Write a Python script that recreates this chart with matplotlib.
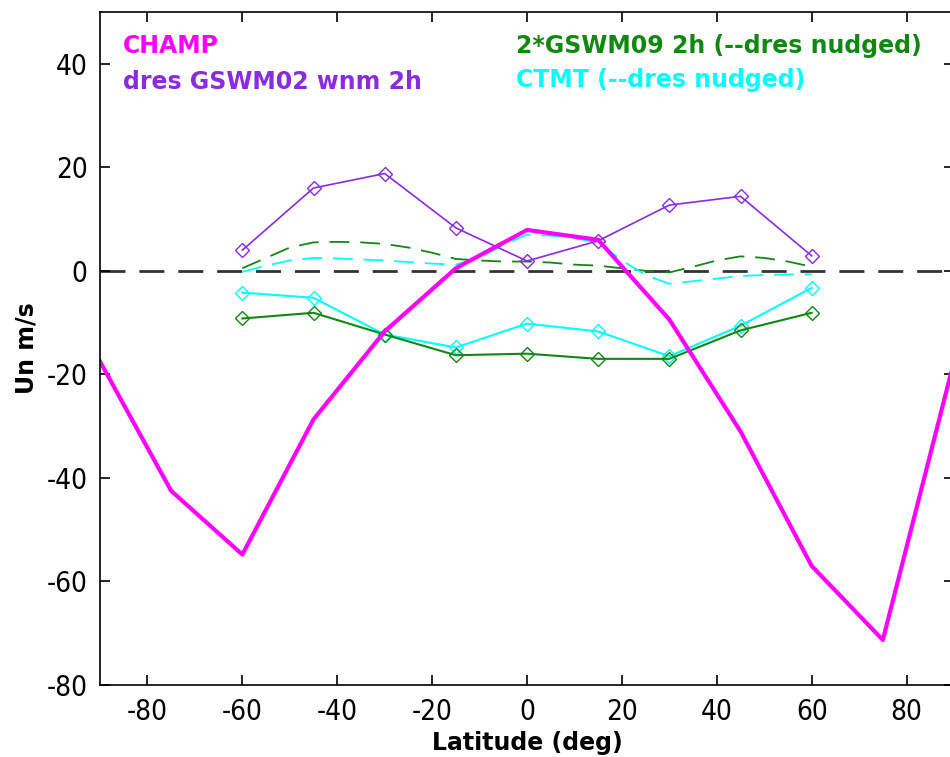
import matplotlib.pyplot as plt
import numpy as np

plt.rcParams['axes.unicode_minus'] = False

# latitudes for the CHAMP curve and the model points
lat_champ = [-90, -75, -60, -45, -30, -15, 0, 15, 30, 45, 60, 75, 90]
un_champ = [-17.5, -42.5, -54.8, -28.7, -11.7, 0.5, 7.9, 6.0, -9.4, -31.0, -57.0, -71.3, -17.5]

lat_mod = [-60, -45, -30, -15, 0, 15, 30, 45, 60]
un_gswm02 = [4.0, 16.0, 18.8, 8.3, 1.9, 5.8, 12.7, 14.4, 2.9]
un_ctmt = [-4.2, -5.2, -12.3, -14.8, -10.2, -11.7, -16.5, -10.6, -3.3]
un_gswm09 = [-9.2, -8.1, -12.3, -16.3, -16.0, -17.0, -17.0, -11.5, -8.1]

# nudged curves (dashed), read every 5 deg
lat_nudged = [-60, -55, -50, -45, -40, -35, -30, -25, -20, -15, -10, -5, 0,
              5, 10, 15, 20, 25, 30, 35, 40, 45, 50, 55, 60]
un_gswm09_nudged = [0.5, 2.5, 4.5, 5.5, 5.6, 5.5, 5.2, 4.5, 3.5, 2.3, 2.0, 1.8, 1.8,
                    1.6, 1.2, 1.0, 0.5, 0.0, -0.3, 0.8, 2.0, 2.8, 2.5, 1.8, 0.8]
un_ctmt_nudged = [-0.2, 1.0, 2.0, 2.5, 2.4, 2.2, 2.0, 1.7, 1.4, 1.2, 2.5, 5.0, 7.0,
                  6.8, 6.3, 5.5, 2.0, -0.8, -2.5, -2.0, -1.5, -1.0, -0.8, -0.7, -0.7]

purple = '#8a2be2'
green = '#118811'
cyan = '#00ffff'
magenta = '#ff00ff'

fig = plt.figure(figsize=(9.5, 7.57), dpi=100)
ax = fig.add_axes([100 / 950, 72 / 757, 854 / 950, 673 / 757])

ax.axhline(0, color='#333333', lw=2, ls=(0, (9, 5)), zorder=1)

ax.plot(lat_nudged, un_gswm09_nudged, color=green, lw=1.3, ls=(0, (11, 6)))
ax.plot(lat_nudged, un_ctmt_nudged, color=cyan, lw=1.3, ls=(0, (11, 6)))

mk = dict(marker='D', markersize=7, markerfacecolor='none', markeredgewidth=1)
ax.plot(lat_mod, un_gswm02, color=purple, lw=1.2, **mk)
ax.plot(lat_mod, un_ctmt, color=cyan, lw=1.5, **mk)
ax.plot(lat_mod, un_gswm09, color=green, lw=1.5, **mk)

ax.plot(lat_champ, un_champ, color=magenta, lw=3)

ax.set_xlim(-90, 90)
ax.set_ylim(-80, 50)
ax.set_xticks(np.arange(-80, 81, 20))
ax.set_yticks(np.arange(-80, 41, 20))
ax.tick_params(direction='in', length=7, width=1.2, top=True, right=True,
               labelsize=20, pad=9)
for lab in ax.get_xticklabels() + ax.get_yticklabels():
    lab.set_family('DejaVu Sans')
    lab.set_stretch('condensed')
for s in ax.spines.values():
    s.set_linewidth(1.2)

ax.set_xlabel('Latitude (deg)', fontsize=17, fontweight='bold', labelpad=4)
ax.set_ylabel('Un m/s', fontsize=17, fontweight='bold', labelpad=6)

tk = dict(fontsize=17, fontweight='bold', va='center', ha='left')
ax.text(-85.2, 43.5, 'CHAMP', color=magenta, **tk)
ax.text(-85.2, 36.5, 'dres GSWM02 wnm 2h', color=purple, **tk)
ax.text(-2.3, 43.5, '2*GSWM09 2h (--dres nudged)', color=green, **tk)
ax.text(-2.3, 36.8, 'CTMT (--dres nudged)', color=cyan, **tk)

fig.savefig('out.png', dpi=100)
